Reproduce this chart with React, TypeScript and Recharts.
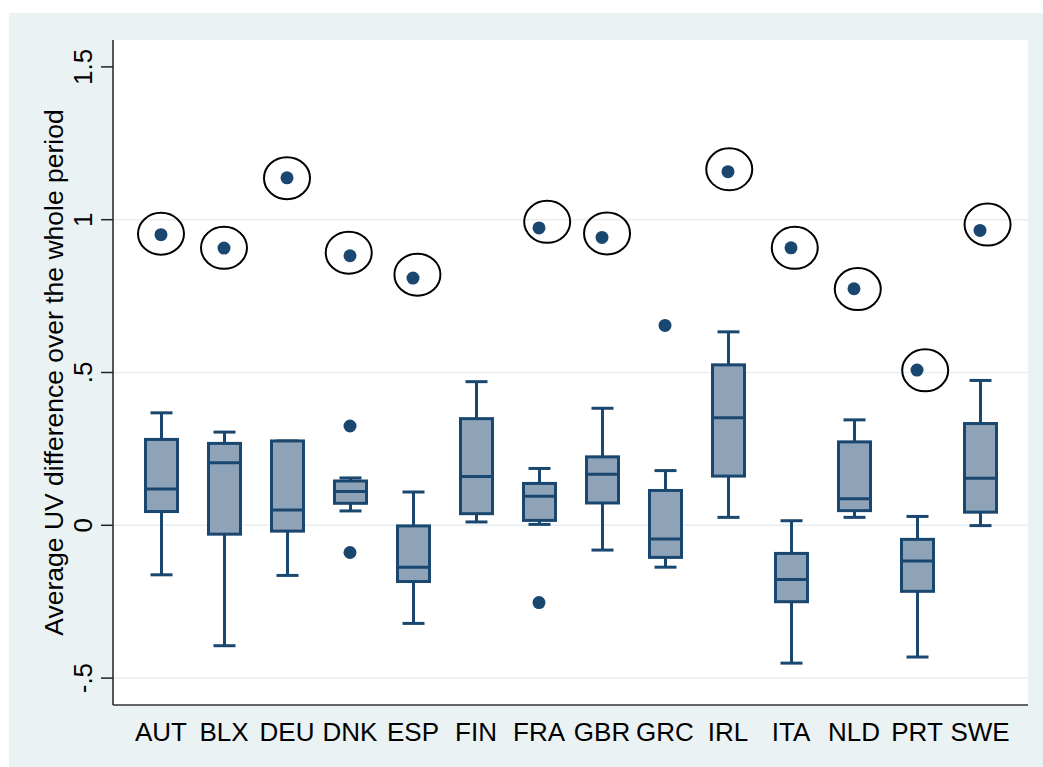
import * as React from 'react';
import {
	ComposedChart,
	Bar,
	Scatter,
	XAxis,
	YAxis,
	CartesianGrid
} from 'recharts';

const categories = ['AUT', 'BLX', 'DEU', 'DNK', 'ESP', 'FIN', 'FRA', 'GBR', 'GRC', 'IRL', 'ITA', 'NLD', 'PRT', 'SWE'];

// box plot statistics per country
const lowWhisker = [-0.162, -0.394, -0.164, 0.047, -0.321, 0.011, 0.003, -0.081, -0.137, 0.026, -0.451, 0.026, -0.431, -0.001];
const q1 = [0.045, -0.029, -0.019, 0.072, -0.184, 0.038, 0.016, 0.073, -0.105, 0.161, -0.25, 0.048, -0.216, 0.043];
const median = [0.119, 0.205, 0.05, 0.111, -0.137, 0.16, 0.095, 0.167, -0.045, 0.352, -0.177, 0.087, -0.117, 0.154];
const q3 = [0.281, 0.268, 0.276, 0.145, -0.002, 0.349, 0.137, 0.224, 0.114, 0.525, -0.092, 0.273, -0.046, 0.333];
const highWhisker = [0.368, 0.305, 0.276, 0.155, 0.109, 0.47, 0.186, 0.383, 0.179, 0.633, 0.015, 0.345, 0.029, 0.474];

// the circled outliers (null = none)
const circledOutlier = [0.951, 0.907, 1.137, 0.882, 0.809, null, 0.973, 0.942, null, 1.157, 0.908, 0.774, 0.508, 0.965];
// where the hand drawn circles sit (category position, value)
const ringPos = [0, 1, 2, 2.98, 4.07, null, 6.13, 7.08, null, 9.02, 10.06, 11.06, 12.13, 13.12];
const ringVal = [0.954, 0.908, 1.136, 0.892, 0.82, null, 0.993, 0.955, null, 1.165, 0.908, 0.773, 0.507, 0.984];

// other outside values
const otherOutCountry = ['DNK', 'DNK', 'FRA', 'GRC'];
const otherOutValue = [0.325, -0.089, -0.253, 0.654];

const yTicks = [-0.5, 0, 0.5, 1, 1.5];
const yTickLabels = ['-.5', '0', '.5', '1', '1.5'];
const gridValues = [-0.5, 0, 0.5, 1];

const NAVY = '#1a476f';
const BOX_FILL = '#8ea3b7';
const BG = '#eaf2f3';
const FONT = '"Liberation Sans", Arial, sans-serif';

const rows = categories.map((name, i) => ({
	name,
	lo: lowWhisker[i],
	q1: q1[i],
	med: median[i],
	q3: q3[i],
	hi: highWhisker[i]
}));

const dots = [];
circledOutlier.forEach((v, i) => {
	if (v !== null) dots.push({ pos: i, value: v });
});
otherOutCountry.forEach((c, i) => {
	dots.push({ pos: categories.indexOf(c), value: otherOutValue[i] });
});

const rings = [];
ringPos.forEach((p, i) => {
	if (p !== null) rings.push({ pos: p, value: ringVal[i] });
});

const BoxShape = (props: any) => {
	const { x, y, width, height, payload } = props;
	const top = Math.min(y, y + height);
	const bottom = Math.max(y, y + height);
	const span = payload.hi - payload.lo;
	const py = (v: number) => top + ((payload.hi - v) / span) * (bottom - top);
	const cx = x + width / 2;
	const cap = 11;
	return (
		<g>
			<line x1={cx} x2={cx} y1={py(payload.hi)} y2={py(payload.q3)} stroke={NAVY} strokeWidth={3} />
			<line x1={cx} x2={cx} y1={py(payload.q1)} y2={py(payload.lo)} stroke={NAVY} strokeWidth={3} />
			<line x1={cx - cap} x2={cx + cap} y1={py(payload.hi)} y2={py(payload.hi)} stroke={NAVY} strokeWidth={3} />
			<line x1={cx - cap} x2={cx + cap} y1={py(payload.lo)} y2={py(payload.lo)} stroke={NAVY} strokeWidth={3} />
			<rect
				x={x}
				y={py(payload.q3)}
				width={width}
				height={py(payload.q1) - py(payload.q3)}
				fill={BOX_FILL}
				stroke={NAVY}
				strokeWidth={3}
			/>
			<line x1={x} x2={x + width} y1={py(payload.med)} y2={py(payload.med)} stroke={NAVY} strokeWidth={3} />
		</g>
	);
};

const DotShape = (props: any) => <circle cx={props.cx} cy={props.cy} r={6.5} fill={NAVY} />;

const RingShape = (props: any) => (
	<ellipse cx={props.cx} cy={props.cy} rx={23} ry={21} fill="none" stroke="#000" strokeWidth={2} />
);

const XTick = (props: any) => (
	<text x={props.x} y={props.y + 36} textAnchor="middle" fontSize={26} fontFamily={FONT} fill="#000">
		{props.payload.value}
	</text>
);

const YTick = (props: any) => {
	const { x, y, payload } = props;
	const label = yTickLabels[yTicks.indexOf(payload.value)];
	return (
		<text
			x={x}
			y={y}
			transform={`rotate(-90 ${x} ${y})`}
			textAnchor="middle"
			fontSize={26}
			fontFamily={FONT}
			fill="#000"
		>
			{label}
		</text>
	);
};

const yTitle = (props: any) => {
	const vb = props.viewBox;
	const tx = vb.x + 63;
	const ty = vb.y + vb.height / 2;
	return (
		<text
			x={tx}
			y={ty}
			transform={`rotate(-90 ${tx} ${ty})`}
			textAnchor="middle"
			fontSize={26.5}
			fontFamily={FONT}
			fill="#000"
		>
			Average UV difference over the whole period
		</text>
	);
};

export default function App() {
	return (
		<div style={{ position: 'absolute', left: 0, top: 0, width: 1043, height: 767 }}>
			<div style={{ position: 'absolute', left: 9, top: 13, width: 1034, height: 754, background: BG }} />
			<div style={{ position: 'absolute', left: 0, top: 0 }}>
				<ComposedChart
					width={1043}
					height={767}
					data={rows}
					margin={{ top: 40, right: 15, left: 0, bottom: 0 }}
				>
					<CartesianGrid
						vertical={false}
						horizontalValues={gridValues}
						fill="#fff"
						stroke="#e6eef1"
						strokeWidth={1.5}
					/>
					<XAxis
						dataKey="name"
						type="category"
						height={62}
						padding={{ left: 16.5, right: 16.5 }}
						tickLine={false}
						tickSize={0}
						tickMargin={0}
						interval={0}
						axisLine={{ stroke: '#333', strokeWidth: 1.5 }}
						tick={<XTick />}
					/>
					<XAxis
						xAxisId="num"
						dataKey="pos"
						type="number"
						domain={[-0.7619, 13.7619]}
						allowDataOverflow
						hide
					/>
					<YAxis
						type="number"
						width={113}
						domain={[-0.588, 1.588]}
						allowDataOverflow
						ticks={yTicks}
						interval={0}
						tickSize={12}
						tickMargin={9}
						tickLine={{ stroke: '#222', strokeWidth: 1.5 }}
						axisLine={{ stroke: '#222', strokeWidth: 1.5 }}
						tick={<YTick />}
						label={{ content: yTitle }}
					/>
					<YAxis
						yAxisId="dots"
						dataKey="value"
						type="number"
						domain={[-0.588, 1.588]}
						allowDataOverflow
						hide
					/>
					<Bar
						dataKey={(d: any) => [d.lo, d.hi]}
						barSize={32}
						shape={BoxShape}
						isAnimationActive={false}
					/>
					<Scatter
						data={dots}
						xAxisId="num"
						yAxisId="dots"
						dataKey="value"
						shape={DotShape}
						isAnimationActive={false}
					/>
					<Scatter
						data={rings}
						xAxisId="num"
						yAxisId="dots"
						dataKey="value"
						shape={RingShape}
						isAnimationActive={false}
					/>
				</ComposedChart>
			</div>
		</div>
	);
}
